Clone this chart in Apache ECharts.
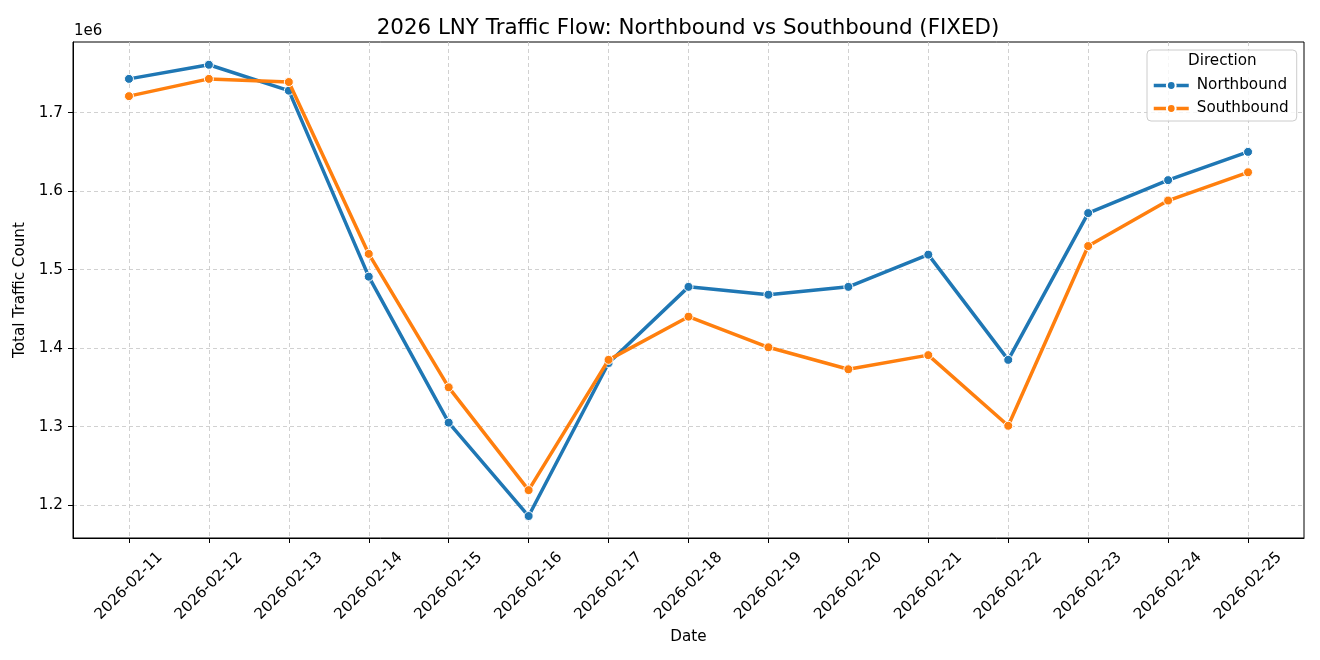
<!DOCTYPE html>
<html>
<head>
<meta charset="utf-8">
<script src="https://cdn.jsdelivr.net/npm/echarts@6/dist/echarts.min.js"></script>
<style>html,body{margin:0;padding:0;background:#fff;}#chart{width:1320px;height:660px;}</style>
</head>
<body>
<div id="chart"></div>
<script>
const dates = ['2026-02-11','2026-02-12','2026-02-13','2026-02-14','2026-02-15','2026-02-16','2026-02-17','2026-02-18','2026-02-19','2026-02-20','2026-02-21','2026-02-22','2026-02-23','2026-02-24','2026-02-25'];
const northbound = [1743000,1761000,1728000,1491000,1305000,1186000,1381000,1478000,1468000,1478000,1519000,1385000,1572000,1614000,1650000];
const southbound = [1721000,1743000,1739000,1520000,1350000,1219000,1385000,1440000,1401000,1373000,1391000,1301000,1530000,1588000,1624000];
const yTicks = [1200000,1300000,1400000,1500000,1600000,1700000];
const xTicks = dates.map((d, i) => i);

const FONT = 'DejaVu Sans';
const FS = 15.2;
const chart = echarts.init(document.getElementById('chart'), null, {renderer: 'canvas'});
const dashed = {show: true, lineStyle: {color: '#cccccc', type: [4, 3], width: 0.9}};
chart.setOption({
  animation: false,
  backgroundColor: '#fff',
  textStyle: {fontFamily: FONT},
  title: {
    text: '2026 LNY Traffic Flow: Northbound vs Southbound (FIXED)',
    left: 683, top: 13, textAlign: 'center',
    textStyle: {fontFamily: FONT, fontSize: 21.4, fontWeight: 'normal', color: '#000'}
  },
  graphic: [
    {type: 'text', left: 74, top: 24, style: {text: '1e6', fontFamily: FONT, fontSize: 15, fill: '#000'}},
    {type: 'text', left: 1188, top: 54, style: {text: 'Direction', fontFamily: FONT, fontSize: FS, fill: '#000'}, z: 100}
  ],
  legend: {
    orient: 'vertical', left: 1147, top: 50,
    padding: [28, 8, 5, 5], itemGap: 8, itemWidth: 35, itemHeight: 11,
    backgroundColor: 'rgba(255,255,255,0.8)', borderColor: '#cccccc', borderWidth: 1, borderRadius: 4,
    lineStyle: {width: 3.5},
    textStyle: {fontFamily: FONT, fontSize: FS, color: '#000', padding: [0, 0, 0, 3]},
    data: ['Northbound', 'Southbound']
  },
  grid: {left: 73, right: 16, top: 42, bottom: 122, show: true, borderColor: '#000', borderWidth: 1, backgroundColor: 'transparent'},
  xAxis: {
    type: 'value', min: -0.7, max: 14.7,
    name: 'Date', nameLocation: 'middle', nameGap: 88,
    nameTextStyle: {fontFamily: FONT, fontSize: FS, color: '#000'},
    axisLine: {show: true, onZero: false, lineStyle: {color: '#000', width: 1}},
    axisTick: {show: true, length: 5, lineStyle: {color: '#000'}, customValues: xTicks},
    axisLabel: {customValues: xTicks, rotate: 45, margin: 48, align: 'center', verticalAlign: 'middle',
      fontFamily: FONT, fontSize: FS, color: '#000',
      formatter: v => dates[Math.round(v)] || ''},
    splitLine: dashed
  },
  yAxis: {
    type: 'value', min: 1158000, max: 1790000,
    name: 'Total Traffic Count', nameLocation: 'middle', nameGap: 42,
    nameTextStyle: {fontFamily: FONT, fontSize: FS, color: '#000'},
    axisLine: {show: true, onZero: false, lineStyle: {color: '#000', width: 1}},
    axisTick: {show: true, length: 5, lineStyle: {color: '#000'}, customValues: yTicks},
    axisLabel: {customValues: yTicks, margin: 10, fontFamily: FONT, fontSize: FS, color: '#000',
      formatter: v => (v / 1e6).toFixed(1)},
    splitLine: dashed
  },
  series: [
    {name: 'Northbound', type: 'line', data: northbound.map((v, i) => [i, v]), color: '#1f77b4',
      symbol: 'circle', symbolSize: 9, lineStyle: {width: 3.5}, itemStyle: {borderColor: '#fff', borderWidth: 1}, z: 2},
    {name: 'Southbound', type: 'line', data: southbound.map((v, i) => [i, v]), color: '#ff7f0e',
      symbol: 'circle', symbolSize: 9, lineStyle: {width: 3.5}, itemStyle: {borderColor: '#fff', borderWidth: 1}, z: 3}
  ]
});
</script>
</body>
</html>
